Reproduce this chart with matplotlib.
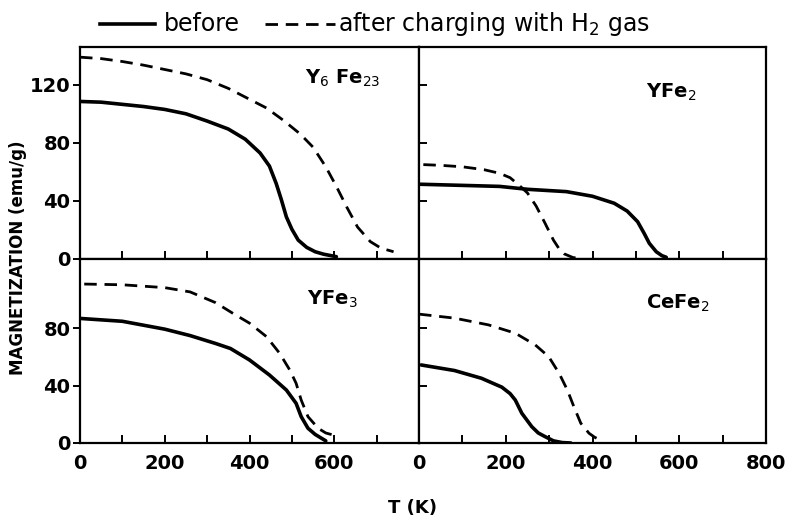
import matplotlib
matplotlib.use("Agg")
import matplotlib.pyplot as plt
from matplotlib.lines import Line2D

# magnetization vs temperature, (T in K, M in emu/g)
y6fe23_before_T = [0, 50, 100, 150, 200, 250, 300, 350, 390, 425, 447, 463, 475, 487, 500, 515, 535, 555, 575, 605]
y6fe23_before_M = [108.5, 108, 106.5, 105, 103, 100, 95, 89.5, 82.5, 73, 64, 52, 41, 29, 20.5, 13, 8, 5, 3.3, 1.6]
y6fe23_after_T = [0, 50, 100, 150, 200, 250, 300, 350, 400, 440, 480, 520, 550, 580, 605, 630, 655, 685, 710, 740]
y6fe23_after_M = [139, 138, 136, 133.5, 130.5, 127.5, 123.5, 117.5, 110, 104, 95.5, 86, 77, 63.5, 50, 35.5, 22, 12, 7.5, 5]

yfe2_before_T = [0, 100, 186, 250, 340, 400, 450, 480, 504, 519, 531, 547, 560, 570]
yfe2_before_M = [51.5, 50.7, 50, 48, 46.4, 43.2, 38.4, 33, 25.7, 17.7, 10.8, 5, 2.3, 1.2]
yfe2_after_T = [10, 50, 100, 150, 186, 210, 230, 250, 270, 290, 310, 322, 335, 355, 375]
yfe2_after_M = [65, 64.5, 63.5, 61.5, 59, 56, 51, 45.5, 36.5, 25, 13, 7.5, 3.5, 1, 0.3]

yfe3_before_T = [0, 100, 200, 260, 320, 355, 400, 447, 487, 510, 522, 538, 555, 566, 580]
yfe3_before_M = [87, 85, 79.5, 75, 69.5, 66, 58, 47.5, 37, 27.7, 18.4, 10.3, 6, 4, 1.5]
yfe3_after_T = [10, 100, 200, 260, 320, 360, 400, 440, 471, 495, 510, 522, 538, 562, 580, 597]
yfe3_after_M = [111, 110.5, 108.5, 105.5, 98, 90.7, 83.7, 74.3, 62.7, 51, 41.7, 30, 18.4, 10.3, 7, 5.6]

cefe2_before_T = [5, 82, 144, 191, 210, 222, 237, 260, 275, 291, 310, 330, 350]
cefe2_before_M = [54.5, 50.6, 45.2, 39, 34.5, 30, 20.8, 11.4, 7, 4.4, 1.5, 0.3, 0]
cefe2_after_T = [0, 82, 160, 222, 268, 299, 323, 342, 357, 373, 392, 405, 419]
cefe2_after_M = [90, 87.2, 82.5, 76.7, 68.5, 60.3, 48.7, 37, 25.4, 13.8, 6.8, 4, 2]

panel_names = [r"Y$_6$ Fe$_{23}$", r"YFe$_2$", r"YFe$_3$", r"CeFe$_2$"]

W, H = 794, 524
fig = plt.figure(figsize=(W / 100, H / 100), dpi=100)

def box(x0, y0, x1, y1):
    return [x0 / W, (H - y1) / H, (x1 - x0) / W, (y1 - y0) / H]

ax_ul = fig.add_axes(box(80, 47, 419, 259))
ax_ur = fig.add_axes(box(419, 47, 766, 259))
ax_ll = fig.add_axes(box(80, 259, 419, 443))
ax_lr = fig.add_axes(box(419, 259, 766, 443))

curves = [
    (ax_ul, y6fe23_before_T, y6fe23_before_M, y6fe23_after_T, y6fe23_after_M),
    (ax_ur, yfe2_before_T, yfe2_before_M, yfe2_after_T, yfe2_after_M),
    (ax_ll, yfe3_before_T, yfe3_before_M, yfe3_after_T, yfe3_after_M),
    (ax_lr, cefe2_before_T, cefe2_before_M, cefe2_after_T, cefe2_after_M),
]

for ax, tb, mb, ta, ma in curves:
    ax.plot(tb, mb, color="black", lw=2.6, solid_capstyle="round",
            solid_joinstyle="round")
    ax.plot(ta, ma, color="black", lw=2.0, dashes=(4.5, 2.8))
    ax.set_xlim(0, 800)
    for s in ax.spines.values():
        s.set_linewidth(1.6)
    ax.set_xticks(range(0, 801, 100))
    ax.tick_params(axis="x", direction="in", length=6, width=1.4, labelsize=14)

ax_ul.set_ylim(0, 146)
ax_ur.set_ylim(0, 146)
ax_ll.set_ylim(0, 128.5)
ax_lr.set_ylim(0, 128.5)

for ax in (ax_ul, ax_ur):
    ax.tick_params(axis="x", labelbottom=False)

tick_font = dict(fontsize=14, fontweight="bold")
ax_ll.set_xticklabels(["0", "", "200", "", "400", "", "600", "", ""], **tick_font)
ax_lr.set_xticklabels(["0", "", "200", "", "400", "", "600", "", "800"], **tick_font)
ax_ll.tick_params(axis="x", pad=8)
ax_lr.tick_params(axis="x", pad=8)

ax_ul.set_yticks([0, 40, 80, 120])
ax_ul.set_yticklabels(["0", "40", "80", "120"], **tick_font)
ax_ll.set_yticks([0, 40, 80])
ax_ll.set_yticklabels(["0", "40", "80"], **tick_font)
for ax in (ax_ul, ax_ll):
    ax.tick_params(axis="y", direction="out", length=5, width=1.4, pad=2)

ax_ur.set_yticks([40, 80, 120])
ax_lr.set_yticks([40, 80])
for ax in (ax_ur, ax_lr):
    ax.tick_params(axis="y", direction="in", length=6, width=1.4, labelleft=False)

# compound names
label_pos = [(0.665, 0.85), (0.655, 0.785), (0.67, 0.78), (0.655, 0.76)]
for ax, name, (px, py) in zip((ax_ul, ax_ur, ax_ll, ax_lr), panel_names, label_pos):
    ax.text(px, py, name, transform=ax.transAxes, fontsize=14,
            fontweight="bold", va="center", ha="left")

fig.text(18 / W, 1 - 258 / H, "MAGNETIZATION (emu/g)", rotation=90,
         fontsize=12, fontweight="bold", ha="center", va="center")
fig.text(412 / W, 1 - 508 / H, "T (K)", fontsize=13, fontweight="bold",
         ha="center", va="center")

# key across the top
ky = 1 - 24 / H
fig.add_artist(Line2D([100 / W, 155 / W], [ky, ky], color="black", lw=2.6,
                      transform=fig.transFigure))
fig.text(164 / W, ky, "before", fontsize=17, va="center", ha="left")
fig.add_artist(Line2D([265 / W, 335 / W], [ky, ky], color="black", lw=2.0,
                      dashes=(4.5, 2.8), transform=fig.transFigure))
fig.text(338 / W, ky, r"after charging with H$_2$ gas", fontsize=17,
         va="center", ha="left")

fig.savefig("out.png", dpi=100)
